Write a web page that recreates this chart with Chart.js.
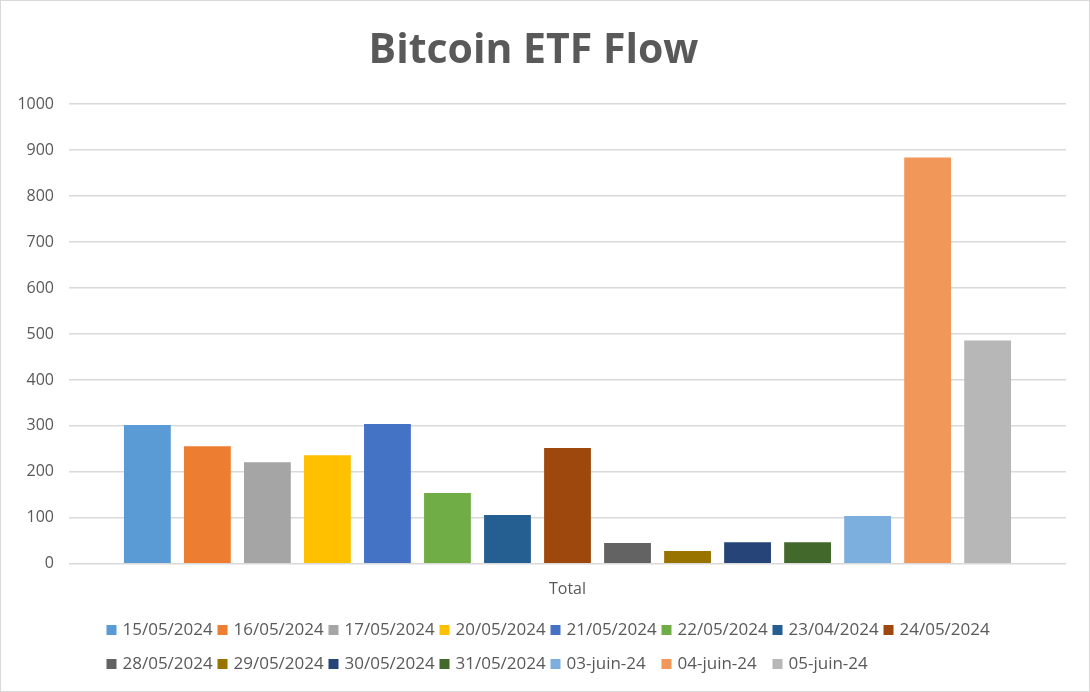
<!DOCTYPE html>
<html>
<head>
<meta charset="utf-8">
<title>Bitcoin ETF Flow</title>
<script src="https://cdn.jsdelivr.net/npm/chart.js@4.4.1/dist/chart.umd.min.js"></script>
<style>
  html, body { margin: 0; padding: 0; background: #fff; }
  .chart-box {
    width: 1090px;
    height: 692px;
    box-sizing: border-box;
    border: 1.5px solid #d9d9d9;
    position: relative;
  }
  canvas { display: block; }
</style>
</head>
<body>
<div class="chart-box">
  <canvas id="flowChart"></canvas>
</div>
<script>
// data
const categories = ["Total"];
const seriesLabels = [
  "15/05/2024", "16/05/2024", "17/05/2024", "20/05/2024", "21/05/2024",
  "22/05/2024", "23/04/2024", "24/05/2024", "28/05/2024", "29/05/2024",
  "30/05/2024", "31/05/2024", "03-juin-24", "04-juin-24", "05-juin-24",
];
const seriesValues = [302, 256, 221, 236, 304, 154, 106, 252, 45, 28, 47, 47, 104, 884, 486];
const seriesColors = [
  "#5B9BD5", "#ED7D31", "#A5A5A5", "#FFC000", "#4472C4",
  "#70AD47", "#255E91", "#9E480E", "#636363", "#997300",
  "#264478", "#43682B", "#7CAFDD", "#F1975A", "#B7B7B7",
];
const yTicks = [0, 100, 200, 300, 400, 500, 600, 700, 800, 900, 1000];

const textColor = "#595959";
const fontFamily = "'Open Sans', sans-serif";

// Excel-style legend: fixed grid of columns, rows left aligned
const gridLegend = {
  id: "gridLegend",
  afterDraw(chart) {
    const ctx = chart.ctx;
    const cols = 8;
    const colWidth = 111;
    const startX = chart.width / 2 - 438;
    const rowY = [629, 663];
    ctx.save();
    ctx.font = "17px " + fontFamily;
    ctx.textBaseline = "middle";
    ctx.textAlign = "left";
    chart.data.datasets.forEach((ds, i) => {
      const col = i % cols;
      const row = Math.floor(i / cols);
      const x = startX + col * colWidth;
      const y = rowY[row];
      ctx.fillStyle = ds.backgroundColor;
      ctx.fillRect(x, y - 5, 10, 10);
      ctx.fillStyle = textColor;
      ctx.fillText(ds.label, x + 16, y);
    });
    ctx.restore();
  },
};

const canvas = document.getElementById("flowChart");
canvas.width = 1087;
canvas.height = 689;

const flowChart = new Chart(canvas.getContext("2d"), {
  type: "bar",
  data: {
    labels: categories,
    datasets: seriesLabels.map((label, i) => ({
      label: label,
      data: [seriesValues[i]],
      backgroundColor: seriesColors[i],
      borderWidth: 0,
    })),
  },
  options: {
    responsive: false,
    animation: false,
    devicePixelRatio: 1,
    categoryPercentage: 0.903,
    barPercentage: 0.78,
    layout: {
      padding: { left: 0, right: 22, top: 0, bottom: 83 },
    },
    scales: {
      x: {
        grid: { display: false },
        border: { display: false },
        ticks: {
          color: textColor,
          font: { family: fontFamily, size: 16 },
          padding: 8,
        },
      },
      y: {
        min: 0,
        max: 1000,
        afterBuildTicks: (scale) => {
          scale.ticks = yTicks.map((v) => ({ value: v }));
        },
        afterFit: (scale) => {
          scale.width = 68;
        },
        grid: {
          color: "#d9d9d9",
          lineWidth: 1.5,
          drawTicks: false,
        },
        border: { display: false },
        ticks: {
          color: textColor,
          font: { family: fontFamily, size: 16 },
          padding: 15,
          callback: (value) => String(value),
        },
      },
    },
    plugins: {
      legend: { display: false },
      tooltip: { enabled: false },
      title: {
        display: true,
        text: "Bitcoin ETF Flow",
        color: textColor,
        font: { family: fontFamily, size: 41, weight: "bold" },
        padding: { top: 26, bottom: 28 },
      },
    },
  },
  plugins: [gridLegend],
});
</script>
</body>
</html>
